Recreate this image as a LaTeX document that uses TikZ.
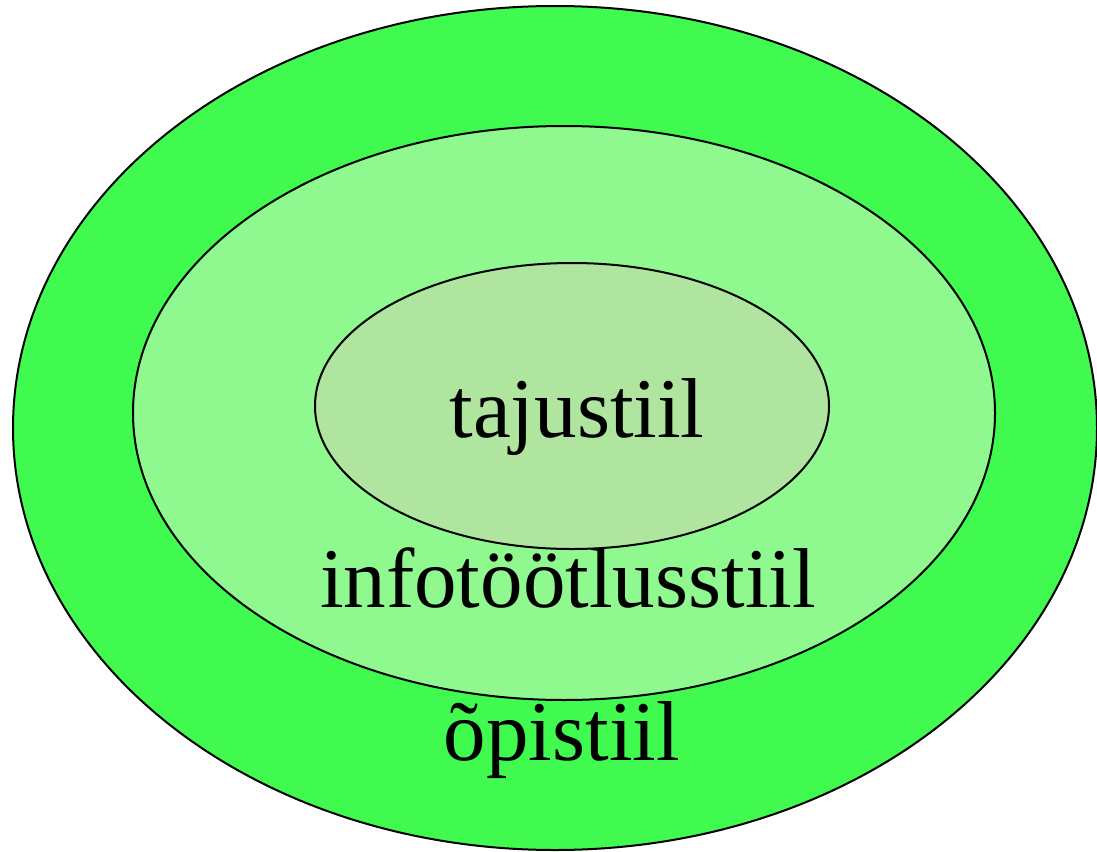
\documentclass[tikz,border=0pt]{standalone}
\usepackage{fontspec}
\setmainfont{Liberation Serif}
\usetikzlibrary{positioning}
\definecolor{opigreen}{RGB}{64,250,80}
\definecolor{infogreen}{RGB}{143,249,143}
\definecolor{tajugreen}{RGB}{176,229,160}
\tikzset{%
    ring/.style={draw=black, line width=2pt},
    ringlabel/.style={anchor=base, inner sep=0pt, font={\fontsize{85}{100}\selectfont}},
}

\begin{document}
\begin{tikzpicture}[x=1pt,y=-1pt]
\useasboundingbox (0,0) rectangle (1097,851);
\draw [ring, fill=opigreen] (555,428) ellipse [x radius=542, y radius=422];
\draw [ring, fill=infogreen] (564,413) ellipse [x radius=431, y radius=287];
\draw [ring, fill=tajugreen] (572,406) ellipse [x radius=257, y radius=143];
\node (taju) [ringlabel] at (577,437) {tajustiil};
\node (info) [ringlabel] at (568,607) {infotöötlusstiil};
\node (opi) [ringlabel] at (562,760) {õpistiil};
\end{tikzpicture}
\end{document}
